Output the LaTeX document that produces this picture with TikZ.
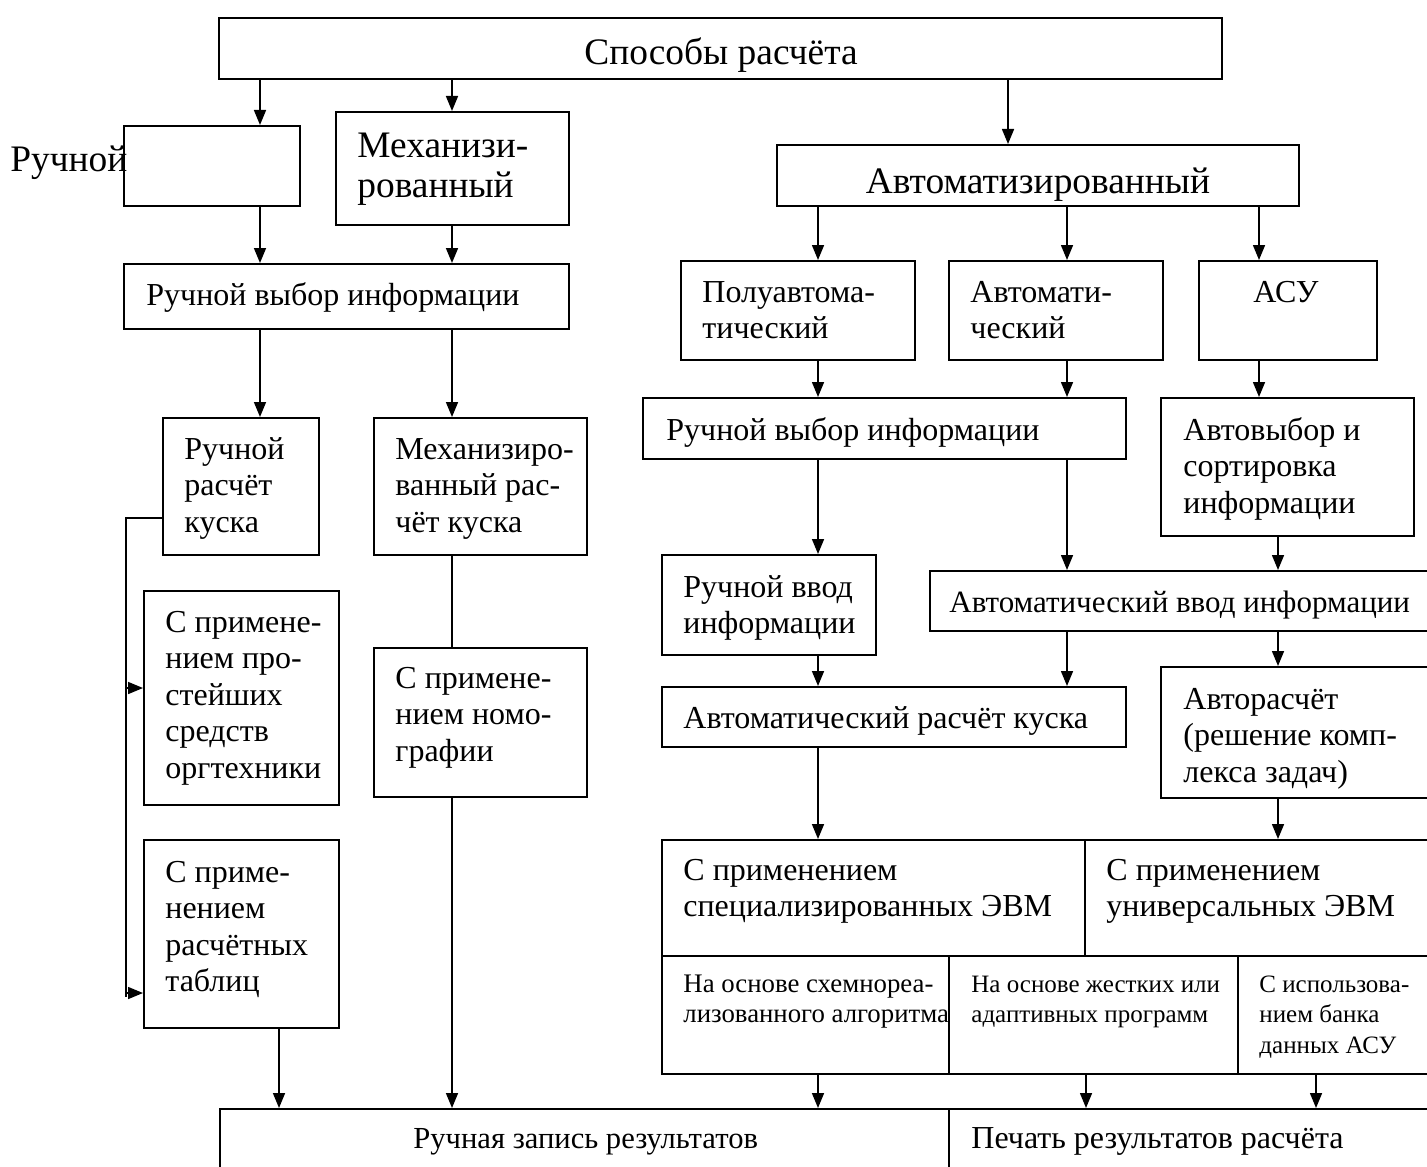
\documentclass[tikz,border=0pt]{standalone}
\usepackage{fontspec}
\setmainfont{Liberation Serif}
\usetikzlibrary{fit,arrows.meta}
\newcommand\ml[1]{\begin{tabular}[t]{@{}l@{}}#1\end{tabular}}
\newcommand\bigf{\fontsize{16}{18.3}\selectfont}
\newcommand\hugef{\fontsize{18.7}{20}\selectfont}
\newcommand\smallf{\fontsize{12.5}{15.25}\selectfont}
\begin{document}
\begin{tikzpicture}[x=0.5pt,y=-0.5pt,
  box/.style={draw,line width=1pt,inner sep=0pt},
  txt/.style={inner sep=0pt,anchor=base west,font=\bigf},
  htxt/.style={inner sep=0pt,anchor=base west,font=\hugef},
  stxt/.style={inner sep=0pt,anchor=base west,font=\smallf},
  conn/.style={line width=0.8pt},
  arr/.style={line width=0.8pt,-{Triangle[length=7.5pt,width=6pt]}}]
\useasboundingbox (0,0) rectangle (1427,1166);
\clip (0,0) rectangle (1427,1166);
% boxes
\node[box,fit={(219,18) (1222,79)}] (top) {};
\node[box,fit={(124,126) (300,206)}] (ruch) {};
\node[box,fit={(336,112) (569,225)}] (mech) {};
\node[box,fit={(124,264) (569,329)}] (rvl) {};
\node[box,fit={(163,418) (319,555)}] (rrk) {};
\node[box,fit={(374,418) (587,555)}] (mrk) {};
\node[box,fit={(144,591) (339,805)}] (spr) {};
\node[box,fit={(374,648) (587,797)}] (nom) {};
\node[box,fit={(144,840) (339,1028)}] (tab) {};
\node[box,fit={(220,1109) (949,1260)}] (zap) {};
\node[box,fit={(949,1109) (1500,1260)}] (pech) {};
\node[box,fit={(777,145) (1299,206)}] (avt) {};
\node[box,fit={(681,261) (915,360)}] (pol) {};
\node[box,fit={(949,261) (1163,360)}] (aut) {};
\node[box,fit={(1199,261) (1377,360)}] (asu) {};
\node[box,fit={(643,398) (1126,459)}] (rvr) {};
\node[box,fit={(1161,398) (1414,536)}] (avs) {};
\node[box,fit={(662,555) (876,655)}] (rvv) {};
\node[box,fit={(930,571) (1500,631)}] (avv) {};
\node[box,fit={(662,687) (1126,747)}] (ark) {};
\node[box,fit={(1161,667) (1500,798)}] (avr) {};
\node[box,fit={(662,840) (1085,956)}] (spe) {};
\node[box,fit={(1085,840) (1500,956)}] (uni) {};
\node[box,fit={(662,956) (949,1074)}] (sha) {};
\node[box,fit={(949,956) (1238,1074)}] (zhe) {};
\node[box,fit={(1238,956) (1500,1074)}] (ban) {};
% texts
\node[inner sep=0pt,anchor=base,font=\hugef] (t-top) at (721,65) {Способы расчёта};
\node[htxt] (t-ruch) at (10,172) {Ручной};
\node[htxt] (t-mech) at (357,158) {\ml{Механизи-\\рованный}};
\node[txt] (t-rvl) at (146,305) {Ручной выбор информации};
\node[txt] (t-rrk) at (184,459) {\ml{Ручной\\расчёт\\куска}};
\node[txt] (t-mrk) at (395,459) {\ml{Механизиро-\\ванный рас-\\чёт куска}};
\node[txt] (t-spr) at (165,632) {\ml{С примене-\\нием про-\\стейших\\средств\\оргтехники}};
\node[txt] (t-nom) at (395,688) {\ml{С примене-\\нием номо-\\графии}};
\node[txt] (t-tab) at (165,882) {\ml{С приме-\\нением\\расчётных\\таблиц}};
\node[inner sep=0pt,anchor=base west,font=\fontsize{15.3}{18}\selectfont] (t-zap) at (413,1148) {Ручная запись результатов};
\node[txt] (t-pech) at (971,1148) {Печать результатов расчёта};
\node[inner sep=0pt,anchor=base,font=\hugef] (t-avt) at (1038,193) {Автоматизированный};
\node[txt] (t-pol) at (702,302) {\ml{Полуавтома-\\тический}};
\node[txt] (t-aut) at (970,302) {\ml{Автомати-\\ческий}};
\node[inner sep=0pt,anchor=base,font=\bigf] (t-asu) at (1286,302) {АСУ};
\node[txt] (t-rvr) at (666,440) {Ручной выбор информации};
\node[txt] (t-avs) at (1183,440) {\ml{Автовыбор и\\сортировка\\информации}};
\node[txt] (t-rvv) at (683,597) {\ml{Ручной ввод\\информации}};
\node[inner sep=0pt,anchor=base west,font=\fontsize{15.5}{18}\selectfont] (t-avv) at (949,612) {Автоматический ввод информации};
\node[txt] (t-ark) at (683,728) {Автоматический расчёт куска};
\node[txt] (t-avr) at (1183,709) {\ml{Авторасчёт\\(решение комп-\\лекса задач)}};
\node[txt] (t-spe) at (683,880) {\ml{С применением\\специализированных ЭВМ}};
\node[txt] (t-uni) at (1106,880) {\ml{С применением\\универсальных ЭВМ}};
\node[inner sep=0pt,anchor=base west,font=\fontsize{13.4}{15.25}\selectfont] (t-sha) at (683,992) {\ml{На основе схемнореа-\\лизованного алгоритма}};
\node[stxt] (t-zhe) at (971,992) {\ml{На основе жестких или\\адаптивных программ}};
\node[stxt] (t-ban) at (1259,992) {\ml{С использова-\\нием банка\\данных АСУ}};
% connectors, left part
\draw[arr] (260,0 |- top.south) -- (260,0 |- ruch.north);
\draw[arr] (452,0 |- top.south) -- (452,0 |- mech.north);
\draw[arr] (1008,0 |- top.south) -- (1008,0 |- avt.north);
\draw[arr] (260,0 |- ruch.south) -- (260,0 |- rvl.north);
\draw[arr] (452,0 |- mech.south) -- (452,0 |- rvl.north);
\draw[arr] (260,0 |- rvl.south) -- (260,0 |- rrk.north);
\draw[arr] (452,0 |- rvl.south) -- (452,0 |- mrk.north);
\draw[conn] (452,0 |- mrk.south) -- (452,0 |- nom.north);
\draw[arr] (452,0 |- nom.south) -- (452,0 |- zap.north);
\coordinate (lc) at (126,518);
\coordinate (lb) at (126,997);
\draw[conn] (rrk.west |- lc) -- (lc) -- (lb);
\draw[arr] (126,688) -- (spr.west |- 0,688);
\draw[arr] (126,993) -- (tab.west |- 0,993);
\draw[arr] (279,0 |- tab.south) -- (279,0 |- zap.north);
% connectors, right part
\draw[arr] (818,0 |- avt.south) -- (818,0 |- pol.north);
\draw[arr] (1067,0 |- avt.south) -- (1067,0 |- aut.north);
\draw[arr] (1259,0 |- avt.south) -- (1259,0 |- asu.north);
\draw[arr] (818,0 |- pol.south) -- (818,0 |- rvr.north);
\draw[arr] (1067,0 |- aut.south) -- (1067,0 |- rvr.north);
\draw[arr] (1259,0 |- asu.south) -- (1259,0 |- avs.north);
\draw[arr] (818,0 |- rvr.south) -- (818,0 |- rvv.north);
\draw[arr] (1067,0 |- rvr.south) -- (1067,0 |- avv.north);
\draw[arr] (1278,0 |- avs.south) -- (1278,0 |- avv.north);
\draw[arr] (818,0 |- rvv.south) -- (818,0 |- ark.north);
\draw[arr] (1067,0 |- avv.south) -- (1067,0 |- ark.north);
\draw[arr] (1278,0 |- avv.south) -- (1278,0 |- avr.north);
\draw[arr] (818,0 |- ark.south) -- (818,0 |- spe.north);
\draw[arr] (1278,0 |- avr.south) -- (1278,0 |- uni.north);
\draw[arr] (818,0 |- sha.south) -- (818,0 |- zap.north);
\draw[arr] (1086,0 |- zhe.south) -- (1086,0 |- pech.north);
\draw[arr] (1316,0 |- ban.south) -- (1316,0 |- pech.north);
\end{tikzpicture}
\end{document}
